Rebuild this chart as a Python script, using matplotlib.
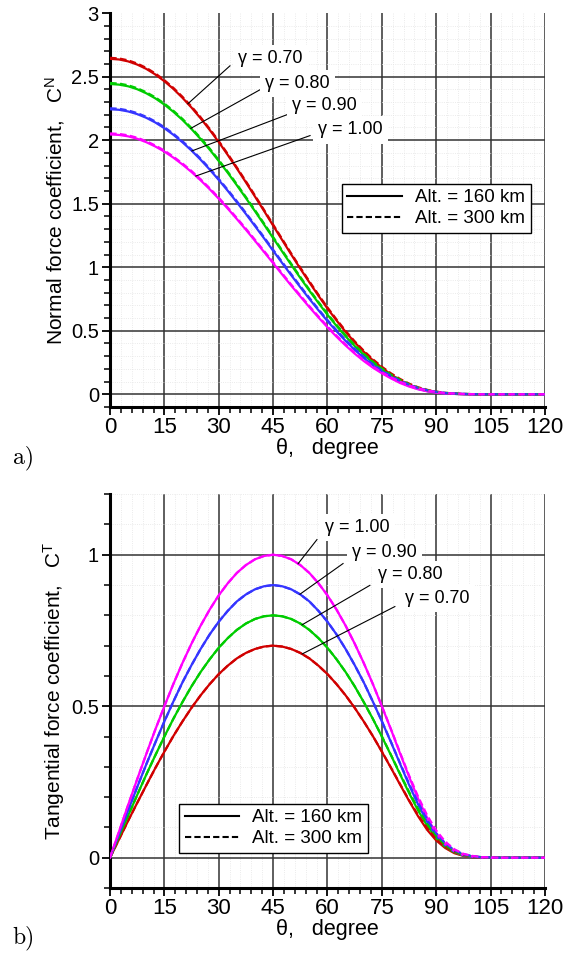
import numpy as np
import matplotlib.pyplot as plt
from matplotlib.lines import Line2D
from matplotlib.ticker import MultipleLocator, FuncFormatter

plt.rcParams.update({
    'font.family': ['Liberation Sans', 'DejaVu Sans'],
    'mathtext.fontset': 'custom',
    'mathtext.rm': 'Liberation Sans',
    'mathtext.it': 'Liberation Sans:italic',
    'mathtext.default': 'regular',
})

# ==== Data: incidence angle (deg) and force coefficients ====
theta = [0, 2.5, 5, 7.5, 10, 12.5, 15, 17.5, 20, 22.5, 25, 27.5, 30, 32.5, 35, 37.5,
         40, 42.5, 45, 47.5, 50, 52.5, 55, 57.5, 60, 62.5, 65, 67.5, 70, 72.5, 75, 77.5,
         80, 82.5, 85, 87.5, 90, 92.5, 95, 97.5, 100, 102.5, 105, 107.5, 110, 112.5,
         115, 117.5, 120]

gamma_labels = ['0.70', '0.80', '0.90', '1.00']
gamma_colors = ['#d00000', '#00cc00', '#3535ff', '#ff00ff']

# normal force coefficient, 160 km
cn_160_g070 = [2.640, 2.635, 2.620, 2.595, 2.561, 2.517, 2.464, 2.403, 2.333, 2.256, 2.172, 2.081,
               1.985, 1.883, 1.777, 1.668, 1.556, 1.443, 1.328, 1.214, 1.100, 0.989, 0.881, 0.776,
               0.675, 0.581, 0.491, 0.409, 0.335, 0.268, 0.209, 0.156, 0.111, 0.075, 0.047, 0.028,
               0.015, 0.007, 0.003, 0.001, 0, 0, 0, 0, 0, 0, 0, 0, 0]
cn_160_g080 = [2.442, 2.437, 2.424, 2.401, 2.369, 2.329, 2.280, 2.223, 2.159, 2.087, 2.009, 1.926,
               1.836, 1.743, 1.645, 1.544, 1.441, 1.336, 1.230, 1.124, 1.019, 0.916, 0.816, 0.719,
               0.626, 0.538, 0.456, 0.380, 0.311, 0.249, 0.195, 0.146, 0.104, 0.070, 0.044, 0.026,
               0.014, 0.007, 0.003, 0.001, 0, 0, 0, 0, 0, 0, 0, 0, 0]
cn_160_g090 = [2.243, 2.239, 2.226, 2.205, 2.176, 2.139, 2.094, 2.042, 1.983, 1.918, 1.846, 1.769,
               1.687, 1.601, 1.511, 1.419, 1.324, 1.228, 1.130, 1.033, 0.937, 0.843, 0.751, 0.662,
               0.576, 0.496, 0.420, 0.350, 0.286, 0.229, 0.180, 0.135, 0.096, 0.066, 0.042, 0.025,
               0.013, 0.006, 0.003, 0.001, 0, 0, 0, 0, 0, 0, 0, 0, 0]
cn_160_g100 = [2.045, 2.041, 2.030, 2.011, 1.984, 1.950, 1.910, 1.862, 1.808, 1.749, 1.684, 1.614,
               1.539, 1.461, 1.379, 1.295, 1.208, 1.120, 1.032, 0.943, 0.855, 0.770, 0.686, 0.605,
               0.527, 0.453, 0.384, 0.320, 0.262, 0.210, 0.165, 0.125, 0.089, 0.061, 0.039, 0.023,
               0.012, 0.006, 0.003, 0.001, 0, 0, 0, 0, 0, 0, 0, 0, 0]

# normal force coefficient, 300 km
cn_300_g070 = [2.648, 2.643, 2.628, 2.603, 2.569, 2.525, 2.472, 2.411, 2.341, 2.264, 2.180, 2.089,
               1.993, 1.891, 1.785, 1.676, 1.564, 1.451, 1.336, 1.222, 1.108, 0.997, 0.889, 0.784,
               0.683, 0.589, 0.499, 0.417, 0.343, 0.276, 0.217, 0.165, 0.121, 0.084, 0.055, 0.035,
               0.021, 0.011, 0.006, 0.003, 0.001, 0, 0, 0, 0, 0, 0, 0, 0]
cn_300_g080 = [2.450, 2.445, 2.432, 2.409, 2.377, 2.337, 2.288, 2.231, 2.167, 2.095, 2.017, 1.934,
               1.844, 1.751, 1.653, 1.552, 1.449, 1.344, 1.238, 1.132, 1.027, 0.924, 0.824, 0.727,
               0.634, 0.546, 0.464, 0.388, 0.319, 0.257, 0.203, 0.155, 0.114, 0.079, 0.052, 0.033,
               0.020, 0.011, 0.006, 0.003, 0.001, 0, 0, 0, 0, 0, 0, 0, 0]
cn_300_g090 = [2.251, 2.247, 2.234, 2.213, 2.184, 2.147, 2.102, 2.050, 1.991, 1.926, 1.854, 1.777,
               1.695, 1.609, 1.519, 1.427, 1.332, 1.236, 1.138, 1.041, 0.945, 0.851, 0.759, 0.670,
               0.584, 0.504, 0.428, 0.358, 0.294, 0.237, 0.188, 0.144, 0.106, 0.075, 0.050, 0.032,
               0.019, 0.010, 0.006, 0.003, 0.001, 0, 0, 0, 0, 0, 0, 0, 0]
cn_300_g100 = [2.053, 2.049, 2.038, 2.019, 1.992, 1.958, 1.918, 1.870, 1.816, 1.757, 1.692, 1.622,
               1.547, 1.469, 1.387, 1.303, 1.216, 1.128, 1.040, 0.951, 0.863, 0.778, 0.694, 0.613,
               0.535, 0.461, 0.392, 0.328, 0.270, 0.218, 0.173, 0.134, 0.099, 0.070, 0.047, 0.030,
               0.018, 0.010, 0.006, 0.003, 0.001, 0, 0, 0, 0, 0, 0, 0, 0]

# tangential force coefficient, 160 km
ct_160_g070 = [0, 0.061, 0.122, 0.181, 0.239, 0.296, 0.350, 0.402, 0.450, 0.495, 0.536, 0.573,
               0.606, 0.634, 0.658, 0.676, 0.689, 0.697, 0.700, 0.697, 0.689, 0.676, 0.658, 0.634,
               0.606, 0.573, 0.536, 0.495, 0.450, 0.402, 0.350, 0.297, 0.242, 0.188, 0.137, 0.092,
               0.057, 0.032, 0.015, 0.006, 0.002, 0.001, 0, 0, 0, 0, 0, 0, 0]
ct_160_g080 = [0, 0.070, 0.139, 0.207, 0.274, 0.338, 0.400, 0.459, 0.514, 0.566, 0.613, 0.655,
               0.693, 0.725, 0.752, 0.773, 0.788, 0.797, 0.800, 0.797, 0.788, 0.773, 0.752, 0.725,
               0.693, 0.655, 0.613, 0.566, 0.514, 0.459, 0.400, 0.339, 0.276, 0.214, 0.156, 0.106,
               0.065, 0.036, 0.018, 0.007, 0.003, 0.001, 0, 0, 0, 0, 0, 0, 0]
ct_160_g090 = [0, 0.078, 0.156, 0.233, 0.308, 0.380, 0.450, 0.516, 0.579, 0.636, 0.689, 0.737,
               0.779, 0.815, 0.846, 0.869, 0.886, 0.896, 0.900, 0.896, 0.886, 0.869, 0.846, 0.815,
               0.779, 0.737, 0.689, 0.636, 0.579, 0.516, 0.450, 0.382, 0.311, 0.241, 0.176, 0.119,
               0.073, 0.041, 0.020, 0.008, 0.003, 0.001, 0, 0, 0, 0, 0, 0, 0]
ct_160_g100 = [0, 0.087, 0.174, 0.259, 0.342, 0.423, 0.500, 0.574, 0.643, 0.707, 0.766, 0.819,
               0.866, 0.906, 0.940, 0.966, 0.985, 0.996, 1.000, 0.996, 0.985, 0.966, 0.940, 0.906,
               0.866, 0.819, 0.766, 0.707, 0.643, 0.574, 0.500, 0.424, 0.345, 0.268, 0.195, 0.132,
               0.081, 0.045, 0.022, 0.009, 0.004, 0.001, 0, 0, 0, 0, 0, 0, 0]

# tangential force coefficient, 300 km
ct_300_g070 = [0, 0.061, 0.122, 0.181, 0.239, 0.296, 0.350, 0.402, 0.450, 0.495, 0.536, 0.573,
               0.606, 0.634, 0.658, 0.676, 0.689, 0.697, 0.700, 0.697, 0.689, 0.676, 0.658, 0.634,
               0.606, 0.573, 0.536, 0.495, 0.450, 0.402, 0.351, 0.298, 0.244, 0.190, 0.141, 0.098,
               0.063, 0.037, 0.020, 0.009, 0.004, 0.001, 0.001, 0, 0, 0, 0, 0, 0]
ct_300_g080 = [0, 0.070, 0.139, 0.207, 0.274, 0.338, 0.400, 0.459, 0.514, 0.566, 0.613, 0.655,
               0.693, 0.725, 0.752, 0.773, 0.788, 0.797, 0.800, 0.797, 0.788, 0.773, 0.752, 0.725,
               0.693, 0.655, 0.613, 0.566, 0.514, 0.459, 0.401, 0.340, 0.278, 0.218, 0.162, 0.112,
               0.072, 0.042, 0.022, 0.010, 0.004, 0.002, 0.001, 0, 0, 0, 0, 0, 0]
ct_300_g090 = [0, 0.078, 0.156, 0.233, 0.308, 0.380, 0.450, 0.516, 0.579, 0.636, 0.689, 0.737,
               0.779, 0.815, 0.846, 0.869, 0.886, 0.896, 0.900, 0.896, 0.886, 0.869, 0.846, 0.815,
               0.779, 0.737, 0.689, 0.636, 0.579, 0.516, 0.451, 0.383, 0.313, 0.245, 0.182, 0.126,
               0.081, 0.048, 0.025, 0.012, 0.005, 0.002, 0.001, 0, 0, 0, 0, 0, 0]
ct_300_g100 = [0, 0.087, 0.174, 0.259, 0.342, 0.423, 0.500, 0.574, 0.643, 0.707, 0.766, 0.819,
               0.866, 0.906, 0.940, 0.966, 0.985, 0.996, 1.000, 0.996, 0.985, 0.966, 0.940, 0.906,
               0.866, 0.819, 0.766, 0.707, 0.643, 0.574, 0.501, 0.425, 0.348, 0.272, 0.202, 0.140,
               0.090, 0.053, 0.028, 0.013, 0.006, 0.002, 0.001, 0, 0, 0, 0, 0, 0]

cn_160 = [cn_160_g070, cn_160_g080, cn_160_g090, cn_160_g100]
cn_300 = [cn_300_g070, cn_300_g080, cn_300_g090, cn_300_g100]
ct_160 = [ct_160_g070, ct_160_g080, ct_160_g090, ct_160_g100]
ct_300 = [ct_300_g070, ct_300_g080, ct_300_g090, ct_300_g100]

# leader lines: (angle on curve, leader end angle, leader end value, label angle, label value)
cn_leaders = [(21.5, 33.1, 2.585, 35.3, 2.64),
              (22.3, 41.4, 2.397, 42.8, 2.446),
              (22.6, 48.8, 2.20, 50.2, 2.27),
              (23.7, 55.2, 2.036, 57.4, 2.08)]
ct_leaders = [(53.0, 78.6, 0.829, 81.4, 0.856),
              (53.0, 71.7, 0.899, 73.9, 0.935),
              (52.4, 64.3, 0.971, 66.8, 1.008),
              (51.9, 57.1, 1.05, 59.3, 1.09)]

YTICK_FS = 14.5
XTICK_FS = 16
LABEL_FS = 15.5


def style_axes(ax, ymin, ymax, ymajor):
    ax.set_xlim(0, 120)
    ax.set_ylim(ymin, ymax)
    ax.xaxis.set_major_locator(MultipleLocator(15))
    ax.xaxis.set_minor_locator(MultipleLocator(3))
    ax.yaxis.set_major_locator(MultipleLocator(ymajor))
    ax.yaxis.set_minor_locator(MultipleLocator(0.1))
    ax.yaxis.set_major_formatter(FuncFormatter(lambda v, p: '%g' % round(v, 3)))
    for s in ['top', 'right']:
        ax.spines[s].set_visible(False)
    for s in ['left', 'bottom']:
        ax.spines[s].set_linewidth(2.2)
    ax.tick_params(which='major', direction='out', length=6, width=1.3, pad=2)
    ax.tick_params(axis='y', which='major', labelsize=YTICK_FS)
    ax.tick_params(axis='x', which='major', labelsize=XTICK_FS, pad=1)
    ax.tick_params(which='minor', direction='out', length=4, width=1.1)
    ax.set_axisbelow(True)
    ax.grid(which='minor', color='#e4e4e4', linestyle=':', linewidth=0.6)
    ax.grid(which='major', color='#333333', linestyle='-', linewidth=1.1)
    # no grid line along the top edge
    for gl, loc in zip(ax.get_ygridlines(), ax.get_yticks()):
        if loc >= ymax - 1e-9 or loc < ymin:
            gl.set_visible(False)


def draw_curves(ax, data_160, data_300, leaders):
    for i in range(4):
        ax.plot(theta, data_160[i], color=gamma_colors[i], lw=1.6, zorder=3)
        ax.plot(theta, data_300[i], color=gamma_colors[i], lw=1.6,
                dashes=(3, 1.5), zorder=4)
    for i in range(4):
        t0, t1, v1, tx, ty = leaders[i]
        v0 = np.interp(t0, theta, data_160[i])
        ax.plot([t0, t1], [v0, v1], color='black', lw=0.8, zorder=5)
        ax.text(tx, ty, '\u03b3 = ' + gamma_labels[i], fontsize=13,
                ha='left', va='center', zorder=6,
                bbox=dict(facecolor='white', edgecolor='none', pad=3.8))


def add_legend(ax, anchor):
    handles = [Line2D([0], [0], color='black', lw=1.5, label='Alt. = 160 km'),
               Line2D([0], [0], color='black', lw=1.5, dashes=(3, 1.5),
                      label='Alt. = 300 km')]
    leg = ax.legend(handles=handles, loc='lower left', bbox_to_anchor=anchor,
                    fontsize=13.5, fancybox=False, framealpha=1,
                    edgecolor='black', handlelength=2.9, handletextpad=0.7,
                    borderpad=0.3, labelspacing=0.2, borderaxespad=0)
    leg.get_frame().set_linewidth(1.0)
    leg.set_zorder(7)


fig = plt.figure(figsize=(5.7, 9.56), dpi=100)

# ==== a) normal force coefficient ====
ax1 = fig.add_axes([0.193, 0.5743, 0.763, 0.412])
style_axes(ax1, -0.1, 3.0, 0.5)
draw_curves(ax1, cn_160, cn_300, cn_leaders)
add_legend(ax1, (0.533, 0.442))
ax1.set_xlabel('\u03b8,   degree', fontsize=LABEL_FS, labelpad=0)
ax1.set_ylabel('Normal force coefficient,   C$^{N}$', fontsize=LABEL_FS - 0.5, labelpad=3)

# ==== b) tangential force coefficient ====
ax2 = fig.add_axes([0.193, 0.0711, 0.763, 0.412])
style_axes(ax2, -0.1, 1.2, 0.5)
draw_curves(ax2, ct_160, ct_300, ct_leaders)
add_legend(ax2, (0.159, 0.089))
ax2.set_xlabel('\u03b8,   degree', fontsize=LABEL_FS, labelpad=0)
ax2.set_ylabel('Tangential force coefficient,   C$^{T}$', fontsize=LABEL_FS - 0.5, labelpad=3)

fig.text(0.022, 0.521, 'a)', fontsize=17, fontfamily='cmr10', va='center')
fig.text(0.022, 0.019, 'b)', fontsize=17, fontfamily='cmr10', va='center')

fig.savefig('out.png', dpi=100)
